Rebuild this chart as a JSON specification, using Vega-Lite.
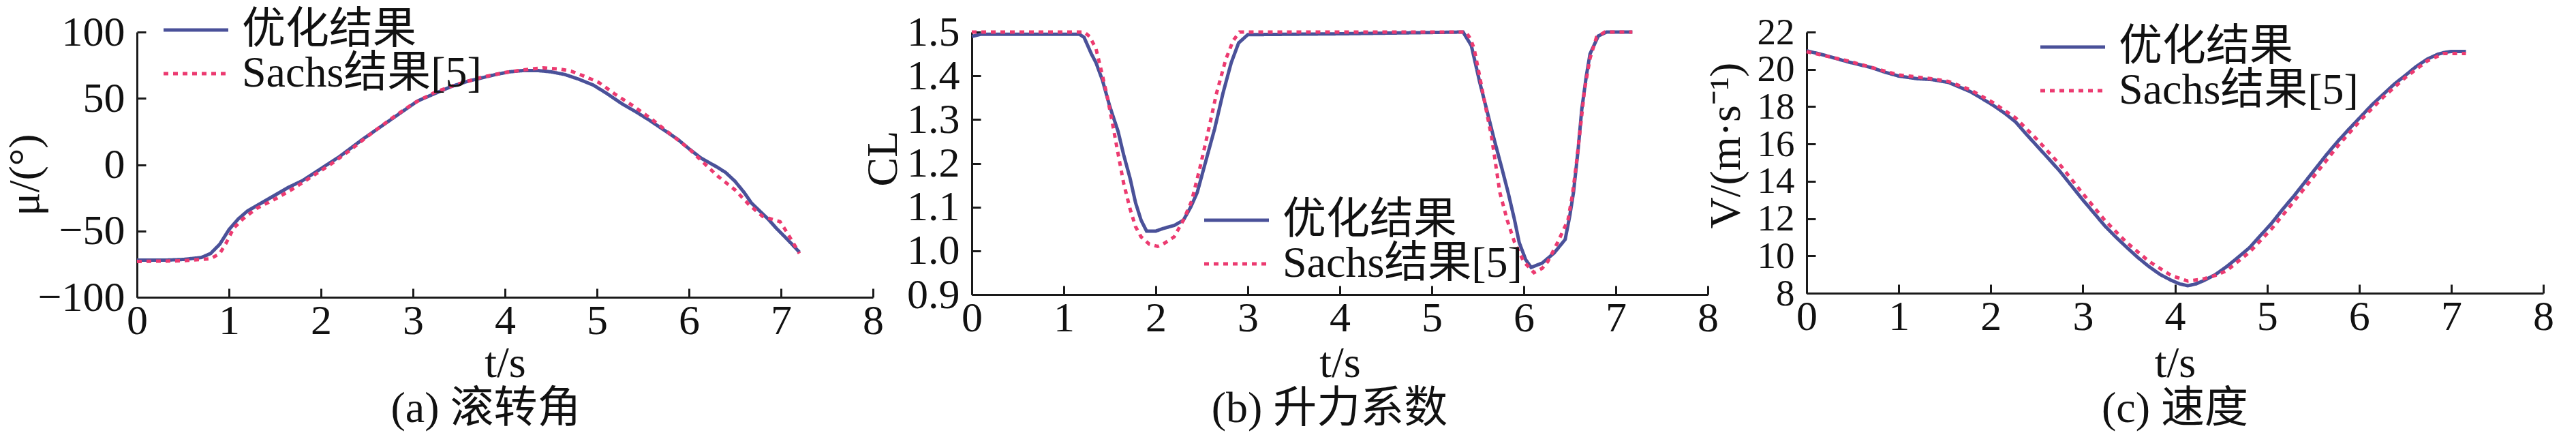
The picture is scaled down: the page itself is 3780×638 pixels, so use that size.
{
  "$schema": "https://vega.github.io/schema/vega-lite/v6.json",
  "background": "white",
  "padding": {"left": 5, "top": 12, "right": 5, "bottom": 5},
  "bounds": "flush",
  "spacing": 145,
  "datasets": {
    "a": [
      {"s": "优化结果", "t": 0, "v": -72}, {"s": "优化结果", "t": 0.3, "v": -72}, {"s": "优化结果", "t": 0.5, "v": -71.5}, {"s": "优化结果", "t": 0.7, "v": -70}, {"s": "优化结果", "t": 0.8, "v": -67}, {"s": "优化结果", "t": 0.9, "v": -60}, {"s": "优化结果", "t": 1.0, "v": -49}, {"s": "优化结果", "t": 1.1, "v": -41}, {"s": "优化结果", "t": 1.2, "v": -35}, {"s": "优化结果", "t": 1.35, "v": -29}, {"s": "优化结果", "t": 1.5, "v": -23}, {"s": "优化结果", "t": 1.65, "v": -17}, {"s": "优化结果", "t": 1.8, "v": -12}, {"s": "优化结果", "t": 2.0, "v": -3}, {"s": "优化结果", "t": 2.2, "v": 6}, {"s": "优化结果", "t": 2.45, "v": 19}, {"s": "优化结果", "t": 2.75, "v": 33.5}, {"s": "优化结果", "t": 3.05, "v": 48}, {"s": "优化结果", "t": 3.25, "v": 54}, {"s": "优化结果", "t": 3.42, "v": 59}, {"s": "优化结果", "t": 3.6, "v": 63}, {"s": "优化结果", "t": 3.75, "v": 65.5}, {"s": "优化结果", "t": 3.9, "v": 68}, {"s": "优化结果", "t": 4.05, "v": 70}, {"s": "优化结果", "t": 4.2, "v": 71}, {"s": "优化结果", "t": 4.35, "v": 71}, {"s": "优化结果", "t": 4.5, "v": 70}, {"s": "优化结果", "t": 4.65, "v": 68}, {"s": "优化结果", "t": 4.8, "v": 64.5}, {"s": "优化结果", "t": 4.96, "v": 60}, {"s": "优化结果", "t": 5.1, "v": 54}, {"s": "优化结果", "t": 5.27, "v": 46}, {"s": "优化结果", "t": 5.42, "v": 40}, {"s": "优化结果", "t": 5.57, "v": 33.5}, {"s": "优化结果", "t": 5.72, "v": 26.5}, {"s": "优化结果", "t": 5.88, "v": 19}, {"s": "优化结果", "t": 6.0, "v": 12}, {"s": "优化结果", "t": 6.13, "v": 5}, {"s": "优化结果", "t": 6.31, "v": -2}, {"s": "优化结果", "t": 6.4, "v": -6}, {"s": "优化结果", "t": 6.5, "v": -12.5}, {"s": "优化结果", "t": 6.6, "v": -21}, {"s": "优化结果", "t": 6.68, "v": -29}, {"s": "优化结果", "t": 6.77, "v": -35}, {"s": "优化结果", "t": 6.86, "v": -41}, {"s": "优化结果", "t": 6.95, "v": -48}, {"s": "优化结果", "t": 7.05, "v": -55}, {"s": "优化结果", "t": 7.12, "v": -60}, {"s": "优化结果", "t": 7.2, "v": -66},
      {"s": "Sachs结果[5]", "t": 0, "v": -73}, {"s": "Sachs结果[5]", "t": 0.5, "v": -72.5}, {"s": "Sachs结果[5]", "t": 0.8, "v": -71}, {"s": "Sachs结果[5]", "t": 0.9, "v": -67}, {"s": "Sachs结果[5]", "t": 0.97, "v": -59}, {"s": "Sachs结果[5]", "t": 1.05, "v": -48}, {"s": "Sachs结果[5]", "t": 1.15, "v": -41}, {"s": "Sachs结果[5]", "t": 1.3, "v": -33}, {"s": "Sachs结果[5]", "t": 1.5, "v": -26}, {"s": "Sachs结果[5]", "t": 1.7, "v": -18}, {"s": "Sachs结果[5]", "t": 1.9, "v": -9}, {"s": "Sachs结果[5]", "t": 2.1, "v": 0}, {"s": "Sachs结果[5]", "t": 2.3, "v": 10}, {"s": "Sachs结果[5]", "t": 2.5, "v": 21}, {"s": "Sachs结果[5]", "t": 2.75, "v": 34}, {"s": "Sachs结果[5]", "t": 3.0, "v": 46}, {"s": "Sachs结果[5]", "t": 3.25, "v": 55}, {"s": "Sachs结果[5]", "t": 3.5, "v": 61}, {"s": "Sachs结果[5]", "t": 3.75, "v": 66}, {"s": "Sachs结果[5]", "t": 4.0, "v": 69.5}, {"s": "Sachs结果[5]", "t": 4.2, "v": 71.5}, {"s": "Sachs结果[5]", "t": 4.41, "v": 73}, {"s": "Sachs结果[5]", "t": 4.6, "v": 72}, {"s": "Sachs结果[5]", "t": 4.72, "v": 70.5}, {"s": "Sachs结果[5]", "t": 4.85, "v": 67}, {"s": "Sachs结果[5]", "t": 5.02, "v": 62}, {"s": "Sachs结果[5]", "t": 5.2, "v": 53}, {"s": "Sachs结果[5]", "t": 5.4, "v": 44}, {"s": "Sachs结果[5]", "t": 5.6, "v": 34}, {"s": "Sachs结果[5]", "t": 5.8, "v": 23}, {"s": "Sachs结果[5]", "t": 6.0, "v": 12}, {"s": "Sachs结果[5]", "t": 6.15, "v": 2}, {"s": "Sachs结果[5]", "t": 6.31, "v": -8.5}, {"s": "Sachs结果[5]", "t": 6.5, "v": -19}, {"s": "Sachs结果[5]", "t": 6.65, "v": -30}, {"s": "Sachs结果[5]", "t": 6.8, "v": -39}, {"s": "Sachs结果[5]", "t": 6.99, "v": -43}, {"s": "Sachs结果[5]", "t": 7.06, "v": -50.5}, {"s": "Sachs结果[5]", "t": 7.15, "v": -61}, {"s": "Sachs结果[5]", "t": 7.2, "v": -67}
    ],
    "b": [
      {"s": "优化结果", "t": 0, "v": 1.49}, {"s": "优化结果", "t": 0.1, "v": 1.495}, {"s": "优化结果", "t": 1.17, "v": 1.495}, {"s": "优化结果", "t": 1.22, "v": 1.488}, {"s": "优化结果", "t": 1.3, "v": 1.45}, {"s": "优化结果", "t": 1.35, "v": 1.43}, {"s": "优化结果", "t": 1.42, "v": 1.39}, {"s": "优化结果", "t": 1.5, "v": 1.33}, {"s": "优化结果", "t": 1.59, "v": 1.273}, {"s": "优化结果", "t": 1.65, "v": 1.22}, {"s": "优化结果", "t": 1.72, "v": 1.166}, {"s": "优化结果", "t": 1.78, "v": 1.11}, {"s": "优化结果", "t": 1.84, "v": 1.07}, {"s": "优化结果", "t": 1.9, "v": 1.045}, {"s": "优化结果", "t": 2.0, "v": 1.045}, {"s": "优化结果", "t": 2.08, "v": 1.051}, {"s": "优化结果", "t": 2.2, "v": 1.058}, {"s": "优化结果", "t": 2.3, "v": 1.07}, {"s": "优化结果", "t": 2.38, "v": 1.1}, {"s": "优化结果", "t": 2.45, "v": 1.133}, {"s": "优化结果", "t": 2.55, "v": 1.21}, {"s": "优化结果", "t": 2.64, "v": 1.279}, {"s": "优化结果", "t": 2.73, "v": 1.36}, {"s": "优化结果", "t": 2.82, "v": 1.43}, {"s": "优化结果", "t": 2.9, "v": 1.475}, {"s": "优化结果", "t": 3.0, "v": 1.494}, {"s": "优化结果", "t": 4.0, "v": 1.496}, {"s": "优化结果", "t": 5.34, "v": 1.5}, {"s": "优化结果", "t": 5.43, "v": 1.469}, {"s": "优化结果", "t": 5.52, "v": 1.386}, {"s": "优化结果", "t": 5.6, "v": 1.32}, {"s": "优化结果", "t": 5.68, "v": 1.253}, {"s": "优化结果", "t": 5.76, "v": 1.19}, {"s": "优化结果", "t": 5.83, "v": 1.133}, {"s": "优化结果", "t": 5.9, "v": 1.07}, {"s": "优化结果", "t": 5.95, "v": 1.019}, {"s": "优化结果", "t": 6.02, "v": 0.98}, {"s": "优化结果", "t": 6.08, "v": 0.962}, {"s": "优化结果", "t": 6.2, "v": 0.972}, {"s": "优化结果", "t": 6.33, "v": 0.995}, {"s": "优化结果", "t": 6.45, "v": 1.026}, {"s": "优化结果", "t": 6.5, "v": 1.08}, {"s": "优化结果", "t": 6.54, "v": 1.133}, {"s": "优化结果", "t": 6.59, "v": 1.23}, {"s": "优化结果", "t": 6.63, "v": 1.323}, {"s": "优化结果", "t": 6.68, "v": 1.4}, {"s": "优化结果", "t": 6.72, "v": 1.45}, {"s": "优化结果", "t": 6.81, "v": 1.491}, {"s": "优化结果", "t": 6.9, "v": 1.5}, {"s": "优化结果", "t": 7.18, "v": 1.5},
      {"s": "Sachs结果[5]", "t": 0, "v": 1.5}, {"s": "Sachs结果[5]", "t": 1.22, "v": 1.5}, {"s": "Sachs结果[5]", "t": 1.28, "v": 1.49}, {"s": "Sachs结果[5]", "t": 1.35, "v": 1.462}, {"s": "Sachs结果[5]", "t": 1.41, "v": 1.41}, {"s": "Sachs结果[5]", "t": 1.47, "v": 1.355}, {"s": "Sachs结果[5]", "t": 1.53, "v": 1.29}, {"s": "Sachs结果[5]", "t": 1.59, "v": 1.222}, {"s": "Sachs结果[5]", "t": 1.65, "v": 1.155}, {"s": "Sachs结果[5]", "t": 1.72, "v": 1.096}, {"s": "Sachs结果[5]", "t": 1.78, "v": 1.055}, {"s": "Sachs结果[5]", "t": 1.84, "v": 1.032}, {"s": "Sachs结果[5]", "t": 1.93, "v": 1.015}, {"s": "Sachs结果[5]", "t": 2.02, "v": 1.01}, {"s": "Sachs结果[5]", "t": 2.1, "v": 1.018}, {"s": "Sachs结果[5]", "t": 2.2, "v": 1.032}, {"s": "Sachs结果[5]", "t": 2.3, "v": 1.07}, {"s": "Sachs结果[5]", "t": 2.39, "v": 1.114}, {"s": "Sachs结果[5]", "t": 2.48, "v": 1.19}, {"s": "Sachs结果[5]", "t": 2.57, "v": 1.273}, {"s": "Sachs结果[5]", "t": 2.66, "v": 1.36}, {"s": "Sachs结果[5]", "t": 2.76, "v": 1.437}, {"s": "Sachs结果[5]", "t": 2.84, "v": 1.48}, {"s": "Sachs结果[5]", "t": 2.91, "v": 1.5}, {"s": "Sachs结果[5]", "t": 5.37, "v": 1.5}, {"s": "Sachs结果[5]", "t": 5.42, "v": 1.485}, {"s": "Sachs结果[5]", "t": 5.46, "v": 1.462}, {"s": "Sachs结果[5]", "t": 5.51, "v": 1.41}, {"s": "Sachs结果[5]", "t": 5.56, "v": 1.355}, {"s": "Sachs结果[5]", "t": 5.65, "v": 1.26}, {"s": "Sachs结果[5]", "t": 5.74, "v": 1.133}, {"s": "Sachs结果[5]", "t": 5.82, "v": 1.07}, {"s": "Sachs结果[5]", "t": 5.9, "v": 1.019}, {"s": "Sachs结果[5]", "t": 6.0, "v": 0.975}, {"s": "Sachs结果[5]", "t": 6.11, "v": 0.95}, {"s": "Sachs结果[5]", "t": 6.2, "v": 0.96}, {"s": "Sachs结果[5]", "t": 6.26, "v": 0.975}, {"s": "Sachs结果[5]", "t": 6.37, "v": 1.02}, {"s": "Sachs结果[5]", "t": 6.48, "v": 1.07}, {"s": "Sachs结果[5]", "t": 6.53, "v": 1.13}, {"s": "Sachs结果[5]", "t": 6.57, "v": 1.197}, {"s": "Sachs结果[5]", "t": 6.62, "v": 1.29}, {"s": "Sachs结果[5]", "t": 6.66, "v": 1.368}, {"s": "Sachs结果[5]", "t": 6.72, "v": 1.44}, {"s": "Sachs结果[5]", "t": 6.79, "v": 1.488}, {"s": "Sachs结果[5]", "t": 6.88, "v": 1.5}, {"s": "Sachs结果[5]", "t": 7.18, "v": 1.5}
    ],
    "c": [
      {"s": "优化结果", "t": 0, "v": 21.0}, {"s": "优化结果", "t": 0.2, "v": 20.75}, {"s": "优化结果", "t": 0.45, "v": 20.4}, {"s": "优化结果", "t": 0.7, "v": 20.1}, {"s": "优化结果", "t": 0.85, "v": 19.85}, {"s": "优化结果", "t": 1.0, "v": 19.64}, {"s": "优化结果", "t": 1.2, "v": 19.5}, {"s": "优化结果", "t": 1.36, "v": 19.45}, {"s": "优化结果", "t": 1.54, "v": 19.3}, {"s": "优化结果", "t": 1.66, "v": 19.05}, {"s": "优化结果", "t": 1.78, "v": 18.8}, {"s": "优化结果", "t": 1.9, "v": 18.45}, {"s": "优化结果", "t": 2.03, "v": 18.06}, {"s": "优化结果", "t": 2.15, "v": 17.65}, {"s": "优化结果", "t": 2.27, "v": 17.18}, {"s": "优化结果", "t": 2.39, "v": 16.5}, {"s": "优化结果", "t": 2.51, "v": 15.85}, {"s": "优化结果", "t": 2.63, "v": 15.2}, {"s": "优化结果", "t": 2.75, "v": 14.54}, {"s": "优化结果", "t": 2.87, "v": 13.8}, {"s": "优化结果", "t": 2.99, "v": 13.06}, {"s": "优化结果", "t": 3.12, "v": 12.3}, {"s": "优化结果", "t": 3.24, "v": 11.6}, {"s": "优化结果", "t": 3.36, "v": 11.0}, {"s": "优化结果", "t": 3.48, "v": 10.44}, {"s": "优化结果", "t": 3.6, "v": 9.9}, {"s": "优化结果", "t": 3.72, "v": 9.42}, {"s": "优化结果", "t": 3.84, "v": 9.0}, {"s": "优化结果", "t": 3.96, "v": 8.69}, {"s": "优化结果", "t": 4.05, "v": 8.5}, {"s": "优化结果", "t": 4.14, "v": 8.4}, {"s": "优化结果", "t": 4.23, "v": 8.5}, {"s": "优化结果", "t": 4.32, "v": 8.69}, {"s": "优化结果", "t": 4.44, "v": 9.0}, {"s": "优化结果", "t": 4.56, "v": 9.42}, {"s": "优化结果", "t": 4.68, "v": 9.9}, {"s": "优化结果", "t": 4.81, "v": 10.44}, {"s": "优化结果", "t": 4.93, "v": 11.1}, {"s": "优化结果", "t": 5.05, "v": 11.75}, {"s": "优化结果", "t": 5.17, "v": 12.5}, {"s": "优化结果", "t": 5.29, "v": 13.2}, {"s": "优化结果", "t": 5.41, "v": 13.95}, {"s": "优化结果", "t": 5.53, "v": 14.7}, {"s": "优化结果", "t": 5.65, "v": 15.45}, {"s": "优化结果", "t": 5.77, "v": 16.15}, {"s": "优化结果", "t": 5.9, "v": 16.85}, {"s": "优化结果", "t": 6.02, "v": 17.47}, {"s": "优化结果", "t": 6.14, "v": 18.1}, {"s": "优化结果", "t": 6.26, "v": 18.65}, {"s": "优化结果", "t": 6.38, "v": 19.2}, {"s": "优化结果", "t": 6.5, "v": 19.67}, {"s": "优化结果", "t": 6.62, "v": 20.15}, {"s": "优化结果", "t": 6.74, "v": 20.55}, {"s": "优化结果", "t": 6.85, "v": 20.8}, {"s": "优化结果", "t": 6.92, "v": 20.9}, {"s": "优化结果", "t": 7.0, "v": 20.96}, {"s": "优化结果", "t": 7.16, "v": 20.96},
      {"s": "Sachs结果[5]", "t": 0, "v": 20.95}, {"s": "Sachs结果[5]", "t": 0.45, "v": 20.45}, {"s": "Sachs结果[5]", "t": 1.0, "v": 19.7}, {"s": "Sachs结果[5]", "t": 1.36, "v": 19.5}, {"s": "Sachs结果[5]", "t": 1.54, "v": 19.35}, {"s": "Sachs结果[5]", "t": 1.78, "v": 18.9}, {"s": "Sachs结果[5]", "t": 2.03, "v": 18.2}, {"s": "Sachs结果[5]", "t": 2.27, "v": 17.4}, {"s": "Sachs结果[5]", "t": 2.51, "v": 16.2}, {"s": "Sachs结果[5]", "t": 2.75, "v": 14.9}, {"s": "Sachs结果[5]", "t": 2.99, "v": 13.4}, {"s": "Sachs结果[5]", "t": 3.24, "v": 11.9}, {"s": "Sachs结果[5]", "t": 3.48, "v": 10.7}, {"s": "Sachs结果[5]", "t": 3.72, "v": 9.7}, {"s": "Sachs结果[5]", "t": 3.96, "v": 8.95}, {"s": "Sachs结果[5]", "t": 4.14, "v": 8.65}, {"s": "Sachs结果[5]", "t": 4.3, "v": 8.75}, {"s": "Sachs结果[5]", "t": 4.44, "v": 8.95}, {"s": "Sachs结果[5]", "t": 4.56, "v": 9.2}, {"s": "Sachs结果[5]", "t": 4.81, "v": 10.2}, {"s": "Sachs结果[5]", "t": 5.05, "v": 11.45}, {"s": "Sachs结果[5]", "t": 5.29, "v": 12.9}, {"s": "Sachs结果[5]", "t": 5.53, "v": 14.4}, {"s": "Sachs结果[5]", "t": 5.77, "v": 15.9}, {"s": "Sachs结果[5]", "t": 6.02, "v": 17.3}, {"s": "Sachs结果[5]", "t": 6.26, "v": 18.5}, {"s": "Sachs结果[5]", "t": 6.5, "v": 19.55}, {"s": "Sachs结果[5]", "t": 6.74, "v": 20.45}, {"s": "Sachs结果[5]", "t": 6.92, "v": 20.85}, {"s": "Sachs结果[5]", "t": 7.16, "v": 20.85}
    ]
  },
  "hconcat": [
    {
      "width": 1080, "height": 389,
      "data": {"name": "a"},
      "title": {"text": "(a) 滚转角", "dx": -28},
      "mark": {"type": "line", "strokeWidth": 5},
      "encoding": {
        "x": {"field": "t", "type": "quantitative", "scale": {"domain": [0, 8], "nice": false, "zero": false}, "axis": {"values": [0,1,2,3,4,5,6,7,8], "title": "t/s", "titleY": 97}},
        "y": {"field": "v", "type": "quantitative", "scale": {"domain": [-100, 100], "nice": false, "zero": false}, "axis": {"values": [-100,-50,0,50,100], "title": "μ/(°)", "titleX": -164, "titleY": 209}},
        "color": {"field": "s", "type": "nominal", "scale": {"domain": ["优化结果", "Sachs结果[5]"], "range": ["#4a5199", "#ec3a70"]}, "legend": {"orient": "none", "legendX": 27, "legendY": -35, "title": null, "symbolType": "M-1,0L3.75,0"}},
        "strokeDash": {"field": "s", "type": "nominal", "scale": {"domain": ["优化结果", "Sachs结果[5]"], "range": [[1, 0], [7, 7]]}, "legend": {"orient": "none", "legendX": 27, "legendY": -35, "title": null, "symbolType": "M-1,0L3.75,0"}}
      }
    },
    {
      "width": 1080, "height": 385,
      "data": {"name": "b"},
      "title": {"text": "(b) 升力系数", "dx": -15},
      "mark": {"type": "line", "strokeWidth": 5},
      "encoding": {
        "x": {"field": "t", "type": "quantitative", "scale": {"domain": [0, 8], "nice": false, "zero": false}, "axis": {"values": [0,1,2,3,4,5,6,7,8], "title": "t/s", "titleY": 101}},
        "y": {"field": "v", "type": "quantitative", "scale": {"domain": [0.9, 1.5], "nice": false, "zero": false}, "axis": {"values": [0.9,1.0,1.1,1.2,1.3,1.4,1.5], "format": ".1f", "title": "CL", "titleX": -130, "titleY": 185}},
        "color": {"field": "s", "type": "nominal", "scale": {"domain": ["优化结果", "Sachs结果[5]"], "range": ["#4a5199", "#ec3a70"]}, "legend": {"orient": "none", "legendX": 329, "legendY": 244, "title": null, "symbolType": "M-1,0L3.75,0"}},
        "strokeDash": {"field": "s", "type": "nominal", "scale": {"domain": ["优化结果", "Sachs结果[5]"], "range": [[1, 0], [7, 7]]}, "legend": {"orient": "none", "legendX": 329, "legendY": 244, "title": null, "symbolType": "M-1,0L3.75,0"}}
      }
    },
    {
      "width": 1081, "height": 383,
      "data": {"name": "c"},
      "title": {"text": "(c) 速度"},
      "mark": {"type": "line", "strokeWidth": 5},
      "encoding": {
        "x": {"field": "t", "type": "quantitative", "scale": {"domain": [0, 8], "nice": false, "zero": false}, "axis": {"values": [0,1,2,3,4,5,6,7,8], "title": "t/s", "titleY": 103}},
        "y": {"field": "v", "type": "quantitative", "scale": {"domain": [8, 22], "nice": false, "zero": false}, "axis": {"values": [8,10,12,14,16,18,20,22], "labelFontSize": 55, "title": "V/(m·s⁻¹)", "titleX": -118, "titleY": 166}},
        "color": {"field": "s", "type": "nominal", "scale": {"domain": ["优化结果", "Sachs结果[5]"], "range": ["#4a5199", "#ec3a70"]}, "legend": {"orient": "none", "legendX": 331, "legendY": -10, "title": null, "symbolType": "M-1,0L3.75,0"}},
        "strokeDash": {"field": "s", "type": "nominal", "scale": {"domain": ["优化结果", "Sachs结果[5]"], "range": [[1, 0], [7, 7]]}, "legend": {"orient": "none", "legendX": 331, "legendY": -10, "title": null, "symbolType": "M-1,0L3.75,0"}}
      }
    }
  ],
  "resolve": {
    "scale": {"color": "independent", "strokeDash": "independent", "x": "independent", "y": "independent"},
    "legend": {"color": "independent", "strokeDash": "independent"}
  },
  "config": {
    "font": "Liberation Serif, Noto Sans CJK SC",
    "view": {"stroke": null},
    "axis": {
      "grid": false,
      "domainColor": "#1a1a1a", "domainWidth": 3,
      "tickColor": "#1a1a1a", "tickWidth": 3, "tickSize": -13,
      "labelFont": "Liberation Serif", "labelFontSize": 62, "labelColor": "#111111",
      "labelOverlap": false, "labelFlush": false,
      "titleFont": "Liberation Serif, Noto Sans CJK SC", "titleFontSize": 64, "titleFontWeight": "normal", "titleColor": "#111111",
      "titleBaseline": "middle"
    },
    "axisX": {"labelPadding": 17},
    "axisY": {"labelPadding": 31},
    "legend": {
      "padding": 0,
      "symbolSize": 1600,
      "symbolStrokeWidth": 5,
      "labelFont": "Liberation Serif, Noto Sans CJK SC",
      "labelFontSize": 64,
      "labelColor": "#111111",
      "labelOffset": 63,
      "labelLimit": 0,
      "rowPadding": -6
    },
    "title": {
      "orient": "bottom",
      "font": "Liberation Serif, Noto Sans CJK SC",
      "fontSize": 64,
      "fontWeight": "normal",
      "color": "#111111",
      "offset": 3
    }
  }
}
